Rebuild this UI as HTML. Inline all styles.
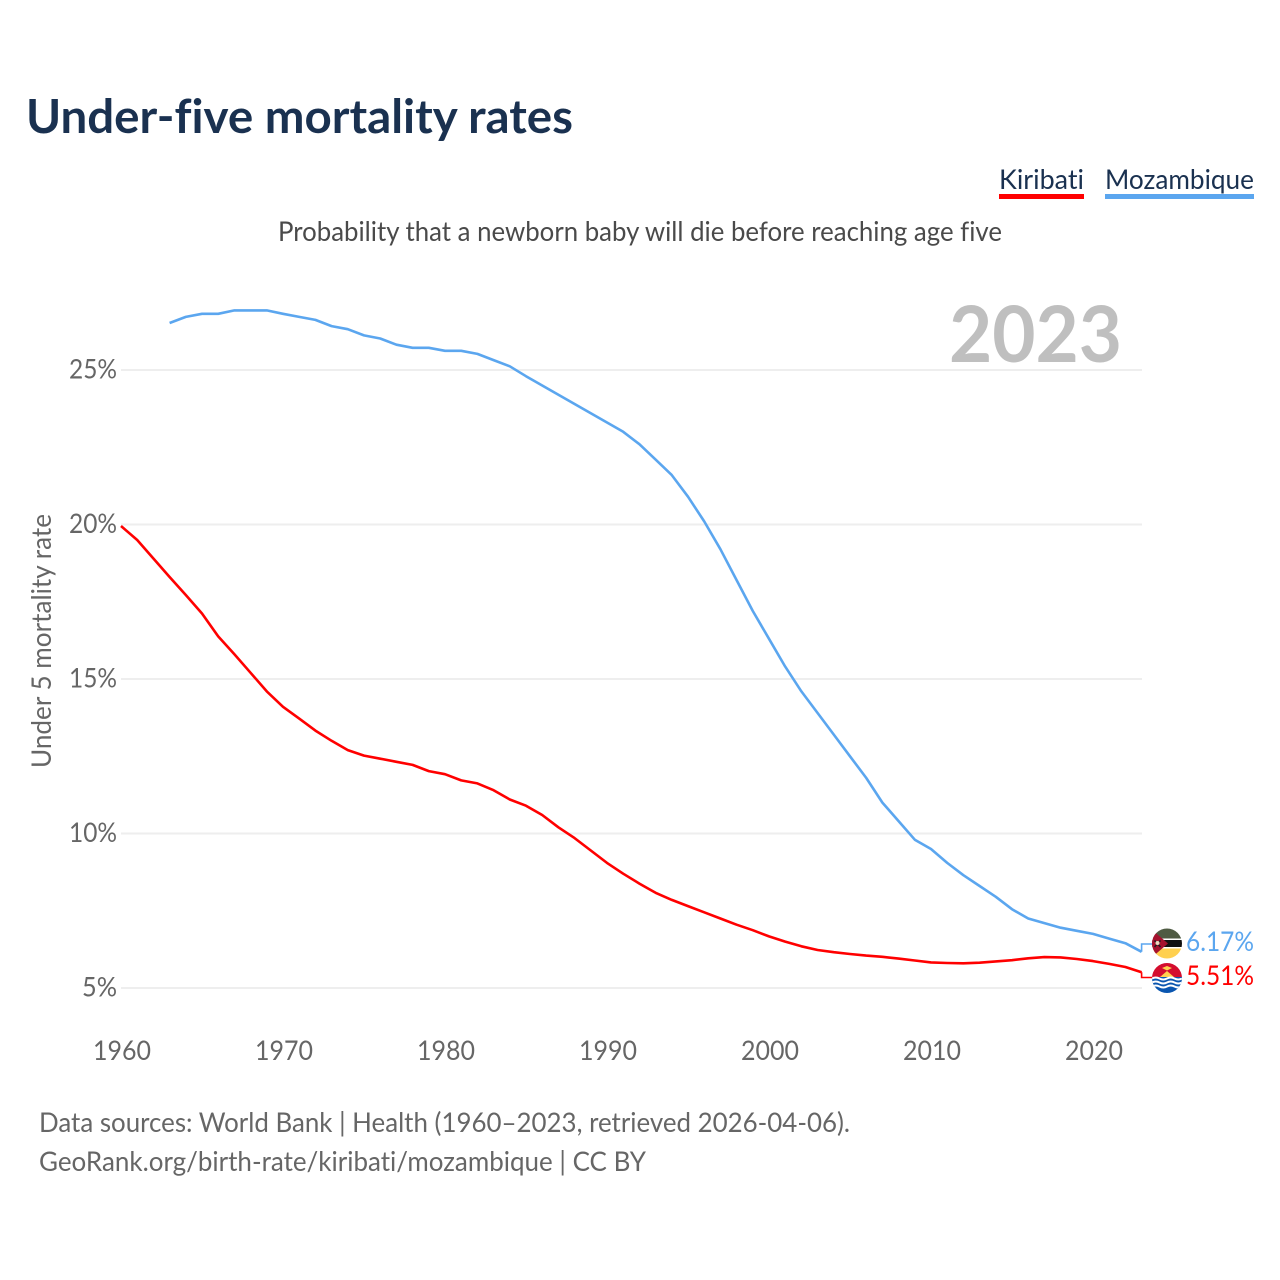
<!DOCTYPE html>
<html lang="en">
<head>
<meta charset="utf-8">
<title>Under-five mortality rates</title>
<style>
html,body{margin:0;padding:0;background:#fff;}
svg{display:block;}
text{font-family:"Lato","Carlito","Liberation Sans",sans-serif;font-variant-ligatures:none;}
</style>
</head>
<body>
<svg id="chart" width="1280" height="1280" viewBox="0 0 1280 1280" xmlns="http://www.w3.org/2000/svg">
  <defs>
    <clipPath id="clip-moz"><circle cx="1167" cy="943.5" r="15"/></clipPath>
    <clipPath id="clip-kir"><circle cx="1167" cy="978" r="15"/></clipPath>
  </defs>
  <rect width="1280" height="1280" fill="#fff"/>
  <text x="26" y="133" font-size="47" font-weight="700" fill="#1a3150" textLength="547" lengthAdjust="spacingAndGlyphs">Under-five mortality rates</text>

  <g>
    <g>
      <text x="999" y="189" font-size="27.5" fill="#1a3150" textLength="85" lengthAdjust="spacingAndGlyphs">Kiribati</text>
      <rect x="999" y="194" width="85" height="5" fill="#ff0000"/>
    </g>
    <g>
      <text x="1105" y="189" font-size="27.5" fill="#1a3150" textLength="149" lengthAdjust="spacingAndGlyphs">Mozambique</text>
      <rect x="1105" y="194" width="149" height="5" fill="#5ba6ef"/>
    </g>
  </g>

  <text x="278" y="241" font-size="27.5" fill="#4a4a4a" textLength="724" lengthAdjust="spacingAndGlyphs">Probability that a newborn baby will die before reaching age five</text>

  <g id="grid"></g>
  <text x="949" y="362" font-size="78" font-weight="700" fill="#bfbfbf" textLength="173" lengthAdjust="spacingAndGlyphs">2023</text>
  <g id="y-axis"></g>
  <g id="x-axis"></g>
  <text transform="translate(51,768) rotate(-90)" font-size="27.5" fill="#666" textLength="254" lengthAdjust="spacingAndGlyphs">Under 5 mortality rate</text>
  <g id="series"></g>

  <g clip-path="url(#clip-moz)">
    <rect x="1152" y="928" width="30" height="10.5" fill="#4f5b43"/>
    <rect x="1152" y="938.5" width="30" height="1.5" fill="#fff"/>
    <rect x="1152" y="940" width="30" height="7" fill="#111"/>
    <rect x="1152" y="947" width="30" height="1.5" fill="#fff"/>
    <rect x="1152" y="948.5" width="30" height="11" fill="#ffd04f"/>
    <polygon points="1150,928 1168,943.5 1150,959" fill="#a5122e"/>
    <path d="M1154.5 940.5l6 6.5M1160.5 940.5l-6 6.5" stroke="#1c1c1c" stroke-width="1.5"/>
    <circle cx="1157.5" cy="943" r="2" fill="#e8dcc0"/>
  </g>
  <g clip-path="url(#clip-kir)">
    <rect x="1152" y="963" width="30" height="15" fill="#d40d2e"/>
    <polygon points="1160,977 1167,971 1174,977" fill="#ffd04f"/>
    <polygon points="1162,968 1167,970.5 1172,968 1167,966" fill="#ffd04f"/>
    <rect x="1152" y="977" width="30" height="16" fill="#0a56b0"/>
    <path d="M1152 978.5q3.7-2 7.5 0t7.5 0t7.5 0t7.5 0" fill="none" stroke="#fff" stroke-width="2"/>
    <path d="M1152 982.5q3.7-2 7.5 0t7.5 0t7.5 0t7.5 0" fill="none" stroke="#fff" stroke-width="2"/>
    <path d="M1152 986.5q3.7-2 7.5 0t7.5 0t7.5 0t7.5 0" fill="none" stroke="#fff" stroke-width="2"/>
  </g>
  <text x="1186" y="951" font-size="27.5" fill="#5ba6ef" textLength="68" lengthAdjust="spacingAndGlyphs">6.17%</text>
  <text x="1186" y="985" font-size="27.5" fill="#ff0000" textLength="68" lengthAdjust="spacingAndGlyphs">5.51%</text>

  <text x="39" y="1132" font-size="27.5" fill="#666" textLength="811" lengthAdjust="spacingAndGlyphs">Data sources: World Bank | Health (1960–2023, retrieved 2026-04-06).</text>
  <text x="39" y="1171" font-size="27.5" fill="#666" textLength="607" lengthAdjust="spacingAndGlyphs">GeoRank.org/birth-rate/kiribati/mozambique | CC BY</text>
</svg>
<script>
const kiribatiStartYear = 1960;
const mozambiqueStartYear = 1963;
const kiribatiValues = [19.95,19.5,18.9,18.3,17.72,17.12,16.38,15.8,15.2,14.6,14.1,13.72,13.33,13.0,12.7,12.52,12.42,12.32,12.22,12.02,11.92,11.72,11.62,11.4,11.1,10.9,10.6,10.2,9.85,9.45,9.05,8.7,8.38,8.08,7.85,7.65,7.45,7.25,7.05,6.87,6.67,6.5,6.35,6.23,6.16,6.1,6.05,6.01,5.95,5.89,5.83,5.81,5.8,5.82,5.86,5.9,5.96,6.0,5.99,5.94,5.87,5.78,5.68,5.51];
const mozambiqueValues = [26.52,26.72,26.82,26.82,26.93,26.93,26.93,26.82,26.72,26.62,26.42,26.32,26.12,26.02,25.82,25.72,25.72,25.62,25.62,25.52,25.32,25.12,24.8,24.5,24.2,23.9,23.6,23.3,23.0,22.6,22.1,21.6,20.9,20.1,19.2,18.2,17.2,16.3,15.4,14.6,13.9,13.2,12.5,11.8,11.0,10.4,9.8,9.5,9.05,8.65,8.3,7.95,7.55,7.25,7.1,6.95,6.85,6.75,6.6,6.45,6.17];
const yTicks = [5,10,15,20,25];
const xTicks = [1960,1970,1980,1990,2000,2010,2020];

const NS = 'http://www.w3.org/2000/svg';
const xScale = year => 121 + (year - 1960) * 16.2;
const yScale = value => 988 - (value - 5) * 30.9;

function make(tag, attrs, parent) {
  const el = document.createElementNS(NS, tag);
  Object.keys(attrs).forEach(k => el.setAttribute(k, attrs[k]));
  parent.appendChild(el);
  return el;
}

const gridGroup = document.getElementById('grid');
const yGroup = document.getElementById('y-axis');
const xGroup = document.getElementById('x-axis');
const seriesGroup = document.getElementById('series');

yTicks.forEach(tick => {
  const line = make('line', {x1: 121, x2: 1142, y1: yScale(tick), y2: yScale(tick), stroke: '#eeeeee', 'stroke-width': 2}, gridGroup);
  
  
  const label = make('text', {x: 117, y: yScale(tick) + 8.5, 'text-anchor': 'end', 'font-size': 27.5, fill: '#666', textLength: tick < 10 ? 35 : 48, lengthAdjust: 'spacingAndGlyphs'}, yGroup);
  
  
  label.textContent = tick + '%';
});

xTicks.forEach(tick => {
  const label = make('text', {x: xScale(tick) + 1, y: 1060, 'text-anchor': 'middle', 'font-size': 27.5, fill: '#666', textLength: 58, lengthAdjust: 'spacingAndGlyphs'}, xGroup);
  
  
  label.textContent = tick;
});

function seriesPath(values, startYear) {
  return values.map((v, i) => (i ? 'L' : 'M') + xScale(startYear + i).toFixed(1) + ' ' + yScale(v).toFixed(1)).join(' ');
}

function connector(values, startYear, flagY) {
  const endYear = startYear + values.length - 1;
  const ex = xScale(endYear);
  const ey = yScale(values[values.length - 1]);
  return 'M' + ex.toFixed(1) + ' ' + ey.toFixed(1) + ' L' + ex.toFixed(1) + ' ' + flagY + ' L1152 ' + flagY;
}

const mozLine = make('path', {d: seriesPath(mozambiqueValues, mozambiqueStartYear), fill: 'none', stroke: '#5ba6ef', 'stroke-width': 2.6, 'stroke-linejoin': 'round'}, seriesGroup);



const kirLine = make('path', {d: seriesPath(kiribatiValues, kiribatiStartYear), fill: 'none', stroke: '#ff0000', 'stroke-width': 2.6, 'stroke-linejoin': 'round'}, seriesGroup);



const mozConnector = make('path', {d: connector(mozambiqueValues, mozambiqueStartYear, 944), fill: 'none', stroke: '#5ba6ef', 'stroke-width': 1.6}, seriesGroup);



const kirConnector = make('path', {d: connector(kiribatiValues, kiribatiStartYear, 977.5), fill: 'none', stroke: '#ff0000', 'stroke-width': 1.6}, seriesGroup);


</script>
</body>
</html>
